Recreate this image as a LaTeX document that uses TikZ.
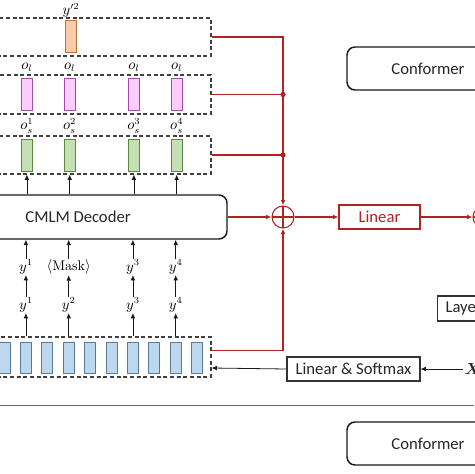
\documentclass[tikz,border=0pt]{standalone}
\usepackage{amsmath}
\usepackage{bm}
\usepackage{fontspec}
\setsansfont{Carlito}
\usepackage{tikz}
\usetikzlibrary{
  arrows.meta,
  positioning,
  fit,
  calc
}
\definecolor{cmred}   {HTML}{B22222}
\definecolor{orfill}  {HTML}{F8CBAD}
\definecolor{ordraw}  {HTML}{B9703F}
\definecolor{pkfill}  {HTML}{FFCCFF}
\definecolor{pkdraw}  {HTML}{A34CA8}
\definecolor{gnfill}  {HTML}{C5E0B4}
\definecolor{gndraw}  {HTML}{5C8646}
\definecolor{blfill}  {HTML}{BDD7EE}
\definecolor{bldraw}  {HTML}{5A7A99}

\begin{document}
\begin{tikzpicture}[
  x=0.75pt, y=-0.75pt,
  every node/.style={font=\sffamily\fontsize{12.5}{14}\selectfont, text=black!85},
  lbl/.style={font=\fontsize{10.5}{12}\selectfont, inner sep=0.5pt, text=black},
  bar/.style={rectangle, minimum width=8.25pt, minimum height=24pt,
              inner sep=0pt, line width=0.6pt},
  orbar/.style={bar, fill=orfill, draw=ordraw},
  pkbar/.style={bar, fill=pkfill, draw=pkdraw},
  gnbar/.style={bar, fill=gnfill, draw=gndraw},
  blbar/.style={bar, fill=blfill, draw=bldraw, minimum height=23.25pt},
  dashbox/.style={draw=black!75, dash pattern=on 3pt off 2pt,
                  line width=0.8pt, inner sep=0pt},
  block/.style={draw=black!90, rounded corners=6pt, line width=1.1pt},
  plain/.style={draw=black!80, line width=0.8pt, minimum height=18pt},
  sumnode/.style={circle, draw=cmred, line width=0.8pt, minimum size=16.5pt,
                  inner sep=0pt,
                  path picture={\draw[cmred, line width=0.8pt]
                    (path picture bounding box.north) -- (path picture bounding box.south)
                    (path picture bounding box.west) -- (path picture bounding box.east);}},
  dot/.style={circle, fill=cmred, inner sep=0pt, minimum size=4pt},
  arr/.style={-{Latex[length=4pt,width=3.5pt]}, line width=0.6pt, black!90},
  rline/.style={cmred, line width=0.8pt},
  rarr/.style={rline, -{Latex[length=4pt,width=3.5pt]}},
]
\useasboundingbox (0,0) rectangle (474,474);

% output rows
\node[dashbox, fit={(-10,18) (211,56)}]   (boxy) {};
\node[dashbox, fit={(-10,75) (211,114)}]  (boxo) {};
\node[dashbox, fit={(-10,136) (211,174)}] (boxs) {};
\node[orbar] (yb) at (71,36) {};
\node[lbl] (ytop) at (71,10.5) {$y'^2$};

\node[block, minimum width=223.5pt, minimum height=33pt] (dec) at (78,217) {CMLM Decoder};

\foreach \i/\x in {1/26.9, 2/69.7, 3/133.9, 4/176.7} {
  \node[pkbar] (o\i) at (\x,94.5) {};
  \node[lbl] (ol\i) at (\x,67) {$o_l$};
  \node[gnbar] (s\i) at (\x,155.5) {};
  \node[lbl] (os\i) at (\x,126) {$o_s^{\i}$};
  \draw[arr] (dec.north -| s\i) -- (s\i |- boxs.south);
}

% encoder side
\node[dashbox, fit={(-10,337) (211,377)}] (blu) {};
\foreach \k in {0,...,9}
  \node[blbar] (b\k) at ({4.5+21.4*\k},357.5) {};

\foreach \i/\b/\t/\u in {1/1/{$y^1$}/{$y^1$}, 2/3/{$\langle$Mask$\rangle$}/{$y^2$},
                         3/6/{$y^3$}/{$y^3$}, 4/8/{$y^4$}/{$y^4$}} {
  \node[lbl] (m\i) at (b\b |- 0,267) {\t};
  \node[lbl] (n\i) at (b\b |- 0,305) {\u};
  \draw[arr] (b\b |- blu.north) -- (n\i.south);
  \draw[arr] (n\i.north) -- (m\i.south);
  \draw[arr] (m\i.north) -- (m\i.north |- dec.south);
}

\node[plain, minimum width=99.75pt] (ls) at (353.5,369) {Linear \& Softmax};
\node[anchor=west, inner sep=1pt, font=\fontsize{12}{14}\selectfont] (xin) at (463,369) {$\bm{X}$};
\node[plain, anchor=west, minimum height=18.75pt, inner xsep=6pt] (lnorm) at (437,308.5) {LayerNorm};

\node[block, minimum width=121.5pt, minimum height=32.25pt] (conf1) at (428,68.5) {Conformer};
\node[block, minimum width=121.5pt, minimum height=32.25pt] (conf2) at (428,443.5) {Conformer};

% fusion
\node[sumnode] (sum) at (283,217) {};
\node[plain, draw=cmred, text=cmred, minimum width=60.75pt] (lin) at (379.5,217) {Linear};
\node[sumnode] (sum2) at (484,217) {};

\draw[rarr] (boxy.east) -| (sum.north);
\draw[rline] (boxo.east) -- (boxo.east -| sum) node[dot] {};
\draw[rline] (boxs.east) -- (boxs.east -| sum) node[dot] {};
\draw[rarr] (dec.east) -- (sum.west);
\draw[rarr] ($(blu.east)+(0,-6.5)$) -| (sum.south);
\draw[rarr] (sum.east) -- (lin.west);
\draw[rarr] (lin.east) -- (sum2.west);

\draw[arr] (xin.west) -- (ls.east);
\draw[arr] (ls.west) -- ($(blu.east)+(0,11)$);

\draw[black!60, line width=1.1pt] (0,405.5) -- (474,405.5);
\end{tikzpicture}
\end{document}
